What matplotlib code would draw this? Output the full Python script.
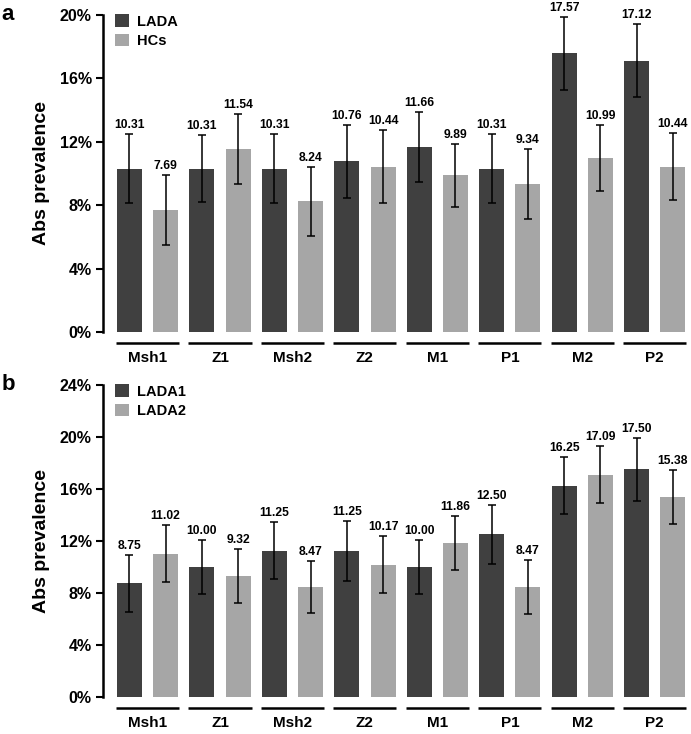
import numpy as np
import matplotlib
matplotlib.use("Agg")
import matplotlib.pyplot as plt
from matplotlib.transforms import blended_transform_factory
from matplotlib.ticker import FuncFormatter

plt.rcParams['font.family'] = ['Liberation Sans', 'DejaVu Sans']

categories = ["Msh1", "Z1", "Msh2", "Z2", "M1", "P1", "M2", "P2"]

# Panel a
a_series = ["LADA", "HCs"]
a_lada = [10.31, 10.31, 10.31, 10.76, 11.66, 10.31, 17.57, 17.12]
a_hcs = [7.69, 11.54, 8.24, 10.44, 9.89, 9.34, 10.99, 10.44]
a_lada_err = [2.2, 2.1, 2.2, 2.3, 2.2, 2.2, 2.3, 2.3]
a_hcs_err = [2.2, 2.2, 2.2, 2.3, 2.0, 2.2, 2.1, 2.1]
a_yticks = [0, 4, 8, 12, 16, 20]

# Panel b
b_series = ["LADA1", "LADA2"]
b_lada1 = [8.75, 10.00, 11.25, 11.25, 10.00, 12.50, 16.25, 17.50]
b_lada2 = [11.02, 9.32, 8.47, 10.17, 11.86, 8.47, 17.09, 15.38]
b_lada1_err = [2.2, 2.1, 2.2, 2.3, 2.1, 2.3, 2.2, 2.4]
b_lada2_err = [2.2, 2.1, 2.0, 2.2, 2.1, 2.1, 2.2, 2.1]
b_yticks = [0, 4, 8, 12, 16, 20, 24]

DARK = "#404040"
LIGHT = "#a6a6a6"

fig = plt.figure(figsize=(6.91, 7.34), dpi=100)
ax_a = fig.add_axes([0.149, 0.5477, 0.851, 0.4319])
ax_b = fig.add_axes([0.149, 0.0504, 0.851, 0.4251])


def draw_panel(ax, s1, s2, e1, e2, names, yticks, letter):
    n = len(categories)
    x1 = np.arange(n) * 2
    x2 = x1 + 1
    w = 0.69
    b1 = ax.bar(x1, s1, width=w, color=DARK, label=names[0], zorder=2)
    b2 = ax.bar(x2, s2, width=w, color=LIGHT, label=names[1], zorder=2)
    ax.errorbar(x1, s1, yerr=e1, fmt='none', ecolor='black', elinewidth=1.1,
                capsize=3, capthick=1.1, zorder=3)
    ax.errorbar(x2, s2, yerr=e2, fmt='none', ecolor='black', elinewidth=1.1,
                capsize=3, capthick=1.1, zorder=3)
    for xs, vals, errs in ((x1, s1, e1), (x2, s2, e2)):
        for x, v, e in zip(xs, vals, errs):
            ax.annotate(f"{v:.2f}", (x, v + e), xytext=(0, 4.2),
                        textcoords='offset points', ha='center', va='baseline',
                        fontsize=8.7, fontweight='bold', annotation_clip=False)
    ax.set_xlim(-0.73, 15.5)
    ax.set_ylim(yticks[0], yticks[-1])
    ax.set_yticks(yticks)
    ax.yaxis.set_major_formatter(FuncFormatter(lambda v, p: f"{v:.0f}%"))
    for s in ('top', 'right', 'bottom'):
        ax.spines[s].set_visible(False)
    ax.spines['left'].set_linewidth(1.8)
    ax.tick_params(axis='y', length=5, width=1.5, labelsize=11.5, pad=3)
    for lab in ax.get_yticklabels():
        lab.set_fontweight('bold')
    ax.set_ylabel("Abs prevalence", fontsize=14, fontweight='bold', labelpad=7)
    # group underlines and labels
    centers = (x1 + x2) / 2
    ax.set_xticks(centers)
    ax.set_xticklabels(categories, fontsize=11, fontweight='bold')
    ax.tick_params(axis='x', length=0, pad=14)
    trans = blended_transform_factory(ax.transData, ax.transAxes)
    h = ax.get_position().height * fig.get_figheight() * fig.dpi
    yline = -11.0 / h
    for c in centers:
        ax.plot([c - 0.87, c + 0.87], [yline, yline], color='black', lw=1.8,
                transform=trans, clip_on=False, solid_capstyle='butt')
    ax.legend(handles=[b1, b2], loc='upper left', bbox_to_anchor=(0.005, 1.03),
              frameon=False, handlelength=0.95, handleheight=0.95,
              handletextpad=0.6, labelspacing=0.35, borderaxespad=0.2,
              prop={'weight': 'bold', 'size': 10.5})
    ax.text(-0.172, 1.0, letter, transform=ax.transAxes, fontsize=16,
            fontweight='bold', va='center', ha='left')


draw_panel(ax_a, a_lada, a_hcs, a_lada_err, a_hcs_err, a_series, a_yticks, "a")
draw_panel(ax_b, b_lada1, b_lada2, b_lada1_err, b_lada2_err, b_series, b_yticks, "b")

fig.savefig("out.png", dpi=100)
